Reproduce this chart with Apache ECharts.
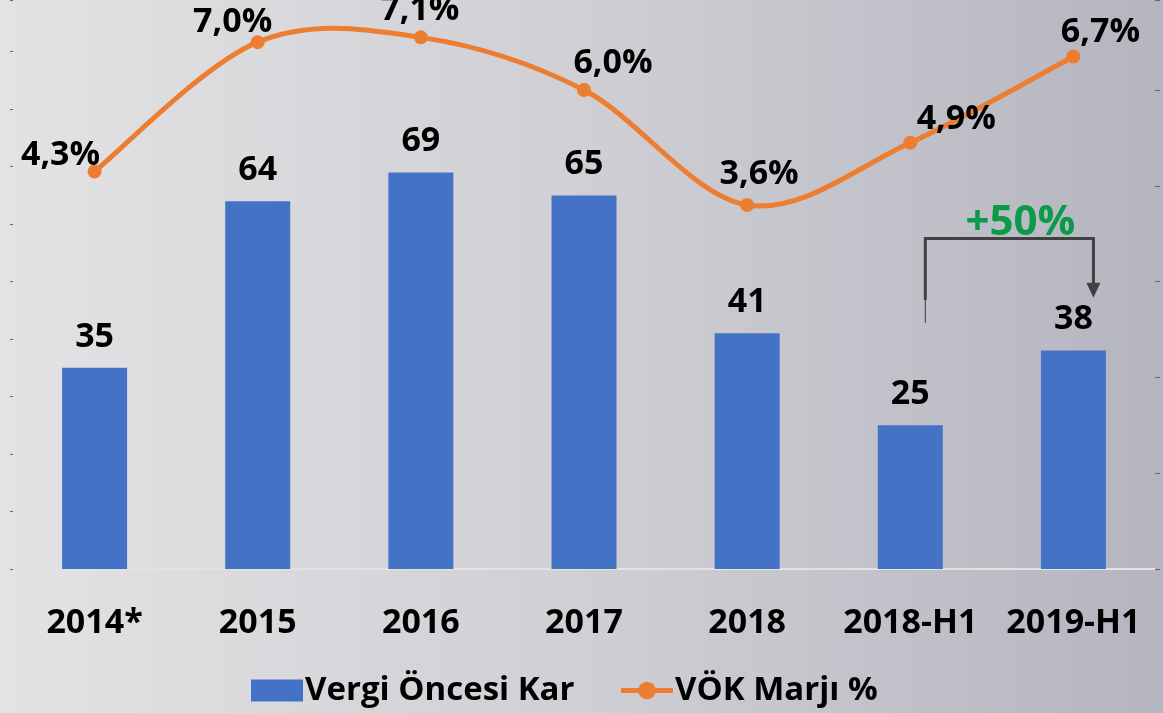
<!DOCTYPE html>
<html>
<head>
<meta charset="utf-8">
<script src="https://cdn.jsdelivr.net/npm/echarts@6/dist/echarts.min.js"></script>
<style>
  html, body { margin: 0; padding: 0; }
  #chart { width: 1163px; height: 713px; }
</style>
</head>
<body>
<div id="chart"></div>
<script>
var categories = ['2014*', '2015', '2016', '2017', '2018', '2018-H1', '2019-H1'];
var karValues = [35, 64, 69, 65, 41, 25, 38];      // Vergi Öncesi Kar
var marjValues = [4.3, 7.0, 7.1, 6.0, 3.6, 4.9, 6.7]; // VÖK Marjı %
var growthText = '+50%';
// bracket heights on the left axis (from 2018-H1 to 2019-H1)
var bracketTop = 57.5, bracketLeftLow = 42.8, bracketLeftThick = 46.8, arrowTip = 47.2;

var font = 'Open Sans';
var orange = '#ed7d31';
// label offsets around each line point (like Excel placed them)
var lineLabelOffsets = [[-34, -16], [-25, -20], [-1, -27], [29, -27], [12, -31], [46, -23], [27, -24]];

var chart = echarts.init(document.getElementById('chart'));

// Excel-like smoothed line: one bezier piece per segment (catmull-rom style)
function renderSmooth(params, api) {
  var i = params.dataIndex;
  if (i >= marjValues.length - 1) return null;
  var pt = function (k) {
    k = Math.max(0, Math.min(marjValues.length - 1, k));
    return api.coord([k, marjValues[k]]);
  };
  var p0 = pt(i - 1), p1 = pt(i), p2 = pt(i + 1), p3 = pt(i + 2);
  return {
    type: 'bezierCurve',
    shape: {
      x1: p1[0], y1: p1[1], x2: p2[0], y2: p2[1],
      cpx1: p1[0] + (p2[0] - p0[0]) / 6, cpy1: p1[1] + (p2[1] - p0[1]) / 6,
      cpx2: p2[0] - (p3[0] - p1[0]) / 6, cpy2: p2[1] - (p3[1] - p1[1]) / 6
    },
    style: { stroke: orange, lineWidth: 5, fill: null, lineCap: 'round' }
  };
}

var option = {
  backgroundColor: new echarts.graphic.LinearGradient(0, 0, 1, 0, [
    { offset: 0, color: '#e3e3e5' },
    { offset: 0.5, color: '#cfcfd4' },
    { offset: 1, color: '#b5b5c0' }
  ]),
  animation: false,
  grid: { left: 13, right: 8, top: 0, bottom: 144 },
  legend: {
    left: 246,
    top: 669,
    itemGap: 44,
    itemWidth: 52,
    itemHeight: 22,
    textStyle: { fontFamily: font, fontSize: 33, fontWeight: 'bold', color: '#000', padding: [0, 0, 0, -3] },
    data: [
      { name: 'Vergi Öncesi Kar', icon: 'rect' },
      { name: 'VÖK Marjı %', lineStyle: { color: orange, width: 5, opacity: 1 } }
    ]
  },
  xAxis: {
    type: 'category',
    data: categories,
    axisLine: { show: true, lineStyle: { color: '#e2e2e2', width: 2 } },
    axisTick: { show: false },
    axisLabel: {
      interval: 0,
      margin: 34,
      fontFamily: font, fontSize: 34, fontWeight: 'bold', color: '#000', lineHeight: 40
    }
  },
  yAxis: [{
    type: 'value',
    min: 0, max: 99, interval: 10,
    axisLine: { show: false },
    axisTick: { show: true, length: 3, lineStyle: { color: '#666' } },
    axisLabel: { show: false },
    splitLine: { show: false }
  }, {
    type: 'value',
    min: -4, max: 7.88, interval: 2,
    axisLine: { show: false },
    axisTick: { show: true, length: 5, lineStyle: { color: '#666' } },
    axisLabel: { show: false },
    splitLine: { show: false }
  }],
  series: [{
    name: 'Vergi Öncesi Kar',
    type: 'bar',
    barWidth: 65,
    itemStyle: { color: '#4472c4' },
    label: {
      show: true, position: 'top', distance: 14,
      fontFamily: font, fontSize: 34, fontWeight: 'bold', color: '#000'
    },
    data: karValues
  }, {
    type: 'custom',
    yAxisIndex: 1,
    z: 2,
    renderItem: renderSmooth,
    data: marjValues.map(function (v, i) { return [i, v]; })
  }, {
    name: 'VÖK Marjı %',
    type: 'line',
    yAxisIndex: 1,
    z: 3,
    symbol: 'circle',
    symbolSize: 14,
    lineStyle: { color: orange, width: 5, opacity: 0 },
    itemStyle: { color: orange },
    data: marjValues.map(function (v, i) {
      return {
        value: v,
        label: {
          show: true, position: 'inside', offset: lineLabelOffsets[i],
          formatter: function (p) { return p.value.toFixed(1).replace('.', ',') + '%'; },
          fontFamily: font, fontSize: 34, fontWeight: 'bold', color: '#000'
        }
      };
    })
  }]
};
chart.setOption(option);

// bracket arrow between 2018-H1 and 2019-H1
var pTopL = chart.convertToPixel({ xAxisIndex: 0, yAxisIndex: 0 }, ['2018-H1', bracketTop]);
var pTopR = chart.convertToPixel({ xAxisIndex: 0, yAxisIndex: 0 }, ['2019-H1', bracketTop]);
var yLow = chart.convertToPixel({ yAxisIndex: 0 }, bracketLeftLow);
var yThick = chart.convertToPixel({ yAxisIndex: 0 }, bracketLeftThick);
var yTip = chart.convertToPixel({ yAxisIndex: 0 }, arrowTip);
var xl = pTopL[0] + 15, xr = pTopR[0] + 20, yt = pTopL[1];

chart.setOption({
  graphic: [{
    type: 'polyline',
    shape: { points: [[xl, yThick], [xl, yt], [xr, yt], [xr, yTip - 14]] },
    style: { stroke: '#404040', lineWidth: 3, fill: null }
  }, {
    type: 'line',
    shape: { x1: xl, y1: yThick, x2: xl, y2: yLow },
    style: { stroke: '#404040', lineWidth: 1 }
  }, {
    type: 'polygon',
    shape: { points: [[xr - 7, yTip - 15], [xr + 7, yTip - 15], [xr, yTip]] },
    style: { fill: '#404040' }
  }, {
    type: 'text',
    x: (xl + xr) / 2 + 11,
    y: yt - 15,
    style: {
      text: growthText, align: 'center', verticalAlign: 'middle',
      font: 'bold 42px "Open Sans"', fill: '#0a9a48'
    }
  }]
});
</script>
</body>
</html>
